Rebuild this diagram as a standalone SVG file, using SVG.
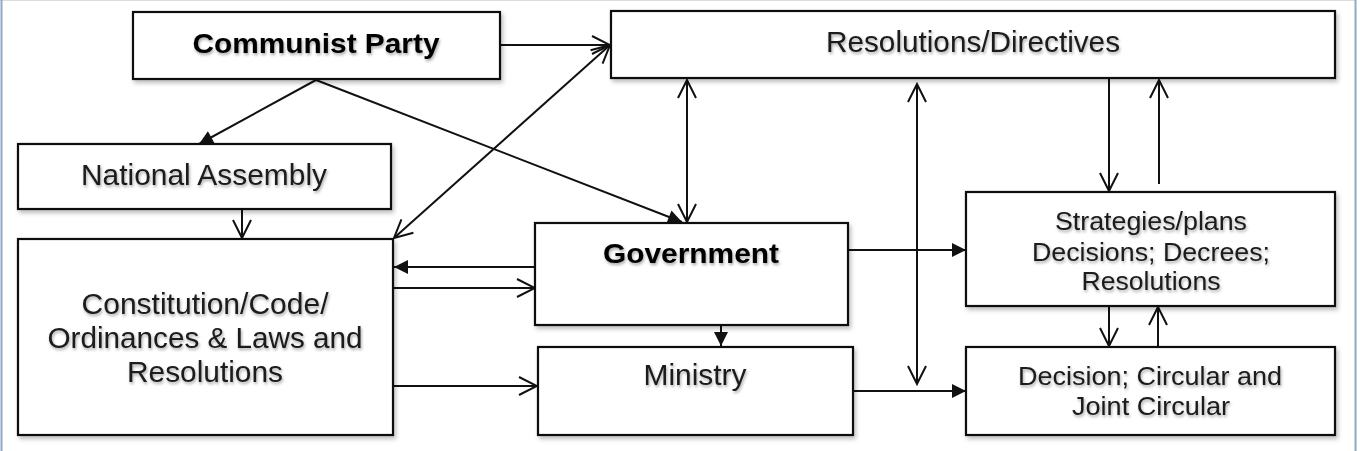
<svg xmlns="http://www.w3.org/2000/svg" width="1360" height="451" viewBox="0 0 1360 451">
<style>
.box{fill:#fff;stroke:#111;stroke-width:2.2;filter:url(#bshadow)}
.t{font-family:"Liberation Sans",Arial,sans-serif;fill:#1a1a1a;text-anchor:middle;filter:url(#tshadow)}
.m{font-size:29px}
.s{font-size:25px}
.b{font-size:28px;font-weight:bold;fill:#000}
.c{fill:none;stroke:#111;stroke-width:2}
.o{marker-end:url(#open)}
.oo{marker-start:url(#open);marker-end:url(#open)}
.f{marker-end:url(#fill)}
</style>
<defs>
<filter id="tshadow" x="-10%" y="-30%" width="120%" height="170%">
<feDropShadow dx="1" dy="2" stdDeviation="1.4" flood-color="#000" flood-opacity="0.35"/>
</filter>
<filter id="bshadow" x="-5%" y="-10%" width="110%" height="130%">
<feDropShadow dx="2" dy="3" stdDeviation="2" flood-color="#000" flood-opacity="0.25"/>
</filter>
<marker id="open" markerUnits="userSpaceOnUse" markerWidth="22" markerHeight="22" viewBox="0 0 22 22" refX="20" refY="11" orient="auto-start-reverse">
<path d="M2,2 L20,11 L2,20" fill="none" stroke="#111" stroke-width="2"/>
</marker>
<marker id="fill" markerUnits="userSpaceOnUse" markerWidth="16" markerHeight="16" viewBox="0 0 16 16" refX="15" refY="8" orient="auto">
<path d="M1,1 L15,8 L1,15 Z" fill="#111"/>
</marker>
</defs>
<rect width="1360" height="451" fill="#fff"/>
<line x1="0" y1="0.5" x2="1356" y2="0.5" stroke="#dcdcdc" stroke-width="1"/>
<line x1="1.5" y1="0" x2="1.5" y2="451" stroke="#8ea9c6" stroke-width="2"/>
<line x1="1355.5" y1="0" x2="1355.5" y2="451" stroke="#8ea9c6" stroke-width="2"/>

<g id="connectors">
<path class="c o" d="M500,45 L610,45"/>
<path class="c f" d="M316,80 L199,144"/>
<path class="c f" d="M316,80 L682,222"/>
<path class="c oo" d="M394,238 L610,45"/>
<path class="c oo" d="M687,80 L687,222"/>
<path class="c oo" d="M917,84 L917,384"/>
<path class="c o" d="M1109,79 L1109,191"/>
<path class="c o" d="M1159,184 L1159,80"/>
<path class="c o" d="M242,209 L242,238"/>
<path class="c f" d="M535,267 L394,267"/>
<path class="c o" d="M393,288 L535,288"/>
<path class="c o" d="M393,386 L537,386"/>
<path class="c f" d="M721,325 L721,346"/>
<path class="c f" d="M848,250 L966,250"/>
<path class="c f" d="M853,391 L966,391"/>
<path class="c o" d="M1109,306 L1109,346"/>
<path class="c o" d="M1158,352 L1158,307"/>
</g>

<g id="communist-party">
<rect class="box" x="133" y="12" width="367" height="67"/>
<text class="t b" x="316" y="53" textLength="247" lengthAdjust="spacingAndGlyphs">Communist Party</text>
</g>
<g id="resolutions-directives">
<rect class="box" x="611" y="11" width="724" height="67"/>
<text class="t m" x="973" y="52" textLength="294" lengthAdjust="spacingAndGlyphs">Resolutions/Directives</text>
</g>
<g id="national-assembly">
<rect class="box" x="18" y="144" width="373" height="65"/>
<text class="t m" x="204" y="185" textLength="246" lengthAdjust="spacingAndGlyphs">National Assembly</text>
</g>
<g id="constitution">
<rect class="box" x="18" y="239" width="375" height="196"/>
<text class="t m" x="205" y="314" textLength="247" lengthAdjust="spacingAndGlyphs">Constitution/Code/</text>
<text class="t m" x="205" y="348" textLength="315" lengthAdjust="spacingAndGlyphs">Ordinances &amp; Laws and</text>
<text class="t m" x="205" y="382" textLength="156" lengthAdjust="spacingAndGlyphs">Resolutions</text>
</g>
<g id="government">
<rect class="box" x="535" y="223" width="313" height="102"/>
<text class="t b" x="691" y="263" textLength="176" lengthAdjust="spacingAndGlyphs">Government</text>
</g>
<g id="ministry">
<rect class="box" x="538" y="347" width="315" height="88"/>
<text class="t m" x="695" y="385" textLength="103" lengthAdjust="spacingAndGlyphs">Ministry</text>
</g>
<g id="strategies">
<rect class="box" x="966" y="192" width="369" height="114"/>
<text class="t s" x="1151" y="230" textLength="192" lengthAdjust="spacingAndGlyphs">Strategies/plans</text>
<text class="t s" x="1151" y="261" textLength="238" lengthAdjust="spacingAndGlyphs">Decisions; Decrees;</text>
<text class="t s" x="1151" y="290" textLength="139" lengthAdjust="spacingAndGlyphs">Resolutions</text>
</g>
<g id="decision">
<rect class="box" x="966" y="347" width="369" height="88"/>
<text class="t s" x="1150" y="385" textLength="264" lengthAdjust="spacingAndGlyphs">Decision; Circular and</text>
<text class="t s" x="1151" y="415" textLength="158" lengthAdjust="spacingAndGlyphs">Joint Circular</text>
</g>
</svg>
